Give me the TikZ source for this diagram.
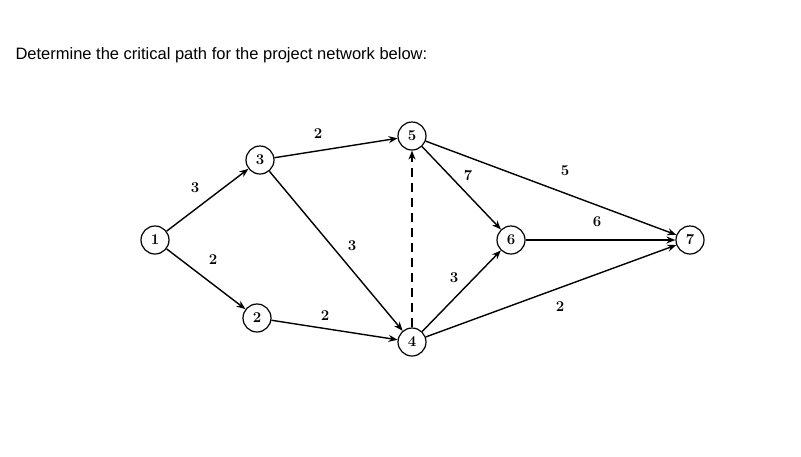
\documentclass[tikz,border=0pt]{standalone}
\usepackage{fontspec}
\newfontfamily\sans{Liberation Sans}
\usetikzlibrary{arrows.meta}
\begin{document}
\begin{tikzpicture}[x=1pt,y=-1pt,
  nd/.style={circle,draw,line width=1.2pt,minimum size=28pt,inner sep=0pt,font=\fontsize{15}{15}\selectfont\bfseries},
  ed/.style={line width=1.4pt,-{Stealth[length=9pt,width=7pt]}},
  lb/.style={font=\fontsize{15}{15}\selectfont\bfseries}]
\useasboundingbox (0,0) rectangle (801,456);
\node[anchor=west,font=\sans\fontsize{16.5}{16.5}\selectfont] (t) at (12,55) {Determine the critical path for the project network below:};
\node[nd] (n1) at (155,240) {1};
\node[nd] (n3) at (260,160) {3};
\node[nd] (n2) at (257,318) {2};
\node[nd] (n5) at (412,136) {5};
\node[nd] (n4) at (412,342) {4};
\node[nd] (n6) at (511,240) {6};
\node[nd] (n7) at (690,240) {7};
\draw[ed] (n1) -- (n3);
\draw[ed] (n1) -- (n2);
\draw[ed] (n3) -- (n5);
\draw[ed] (n3) -- (n4);
\draw[ed] (n2) -- (n4);
\draw[ed,dash pattern=on 9pt off 6pt] (n4) -- (n5);
\draw[ed] (n5) -- (n6);
\draw[ed] (n5) -- (n7);
\draw[ed] (n4) -- (n6);
\draw[ed] (n4) -- (n7);
\draw[ed] (n6) -- (n7);
\node[lb] (l1) at (195,188) {3};
\node[lb] (l2) at (213,260) {2};
\node[lb] (l3) at (318,134) {2};
\node[lb] (l4) at (352,246) {3};
\node[lb] (l5) at (325,316) {2};
\node[lb] (l6) at (468,176) {7};
\node[lb] (l7) at (565,171) {5};
\node[lb] (l8) at (597,222) {6};
\node[lb] (l9) at (454,278) {3};
\node[lb] (l10) at (560,307) {2};
\end{tikzpicture}
\end{document}
